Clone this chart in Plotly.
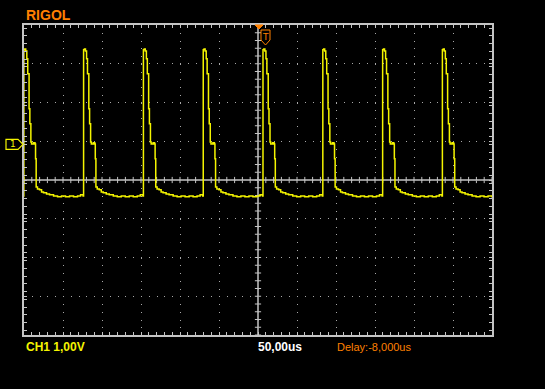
import plotly.graph_objects as go

# ---- scope settings ----
TIME_PER_DIV_US = 50.0      # 50,00us
VOLT_PER_DIV = 1.0          # CH1 1,00V
H_DIVS = 12
V_DIVS = 8
CENTER_V = -0.92            # screen centre relative to CH1 ground marker
TIME_RANGE_US = [-H_DIVS / 2 * TIME_PER_DIV_US, H_DIVS / 2 * TIME_PER_DIV_US]
VOLT_RANGE = [CENTER_V - V_DIVS / 2 * VOLT_PER_DIV, CENTER_V + V_DIVS / 2 * VOLT_PER_DIV]

# rising-edge times of each pulse on screen (us)
edge_times_us = [-300.6, -224.0, -147.3, -70.6, 6.0, 82.7, 159.4, 236.0]

# one pulse: time after its rising edge (us) and CH1 voltage (V)
pulse_t_us = [0.0, 0.4, 1.5, 2.8, 4.2, 5.4, 7.1, 8.1, 9.4, 10.3, 12.8, 14.7, 15.4,
              16.2, 17.9, 20.5, 23.1, 25.6, 29.5, 33.3, 38.5, 43.6, 48.7, 53.8,
              59.0, 64.1, 69.2, 73.1, 76.4]
pulse_v = [-1.33, 2.44, 2.46, 2.41, 2.21, 1.82, 0.92, 0.53, 0.06, 0.01, 0.04, 0.01,
           -0.37, -1.10, -1.15, -1.17, -1.23, -1.25, -1.28, -1.30, -1.33, -1.35,
           -1.33, -1.35, -1.33, -1.35, -1.33, -1.30, -1.33]

# ---- colours ----
TRACE = "#f4f400"
ORANGE = "#ff8000"
FRAME = "#c4c4c4"
GRID = "#a8a8a8"

trace_t, trace_v = [], []
for e in edge_times_us:
    for dt, v in zip(pulse_t_us, pulse_v):
        trace_t.append(e + dt)
        trace_v.append(v)

fig = go.Figure()
fig.add_trace(go.Scatter(x=trace_t, y=trace_v, mode="lines", line_shape="hv",
                         line=dict(color=TRACE, width=1.5), hoverinfo="skip",
                         showlegend=False))

W, H = 545, 389
L, R, T, B = 24, 53, 25, 54
PW, PH = W - L - R, H - T - B


def px(x):
    return (x - L) / PW


def py(y):
    return (H - B - y) / PH


shapes = []
# centre cross lines
shapes.append(dict(type="line", xref="x", yref="paper", x0=0, x1=0, y0=0, y1=1,
                   line=dict(color=FRAME, width=1.5), layer="below"))
shapes.append(dict(type="line", xref="paper", yref="y", x0=0, x1=1, y0=CENTER_V, y1=CENTER_V,
                   line=dict(color=FRAME, width=1.5), layer="below"))
# ticks on the centre cross (1/5 division)
tx_len = 0.08 * VOLT_PER_DIV
ty_len = 0.08 * TIME_PER_DIV_US
n_x = H_DIVS * 5
for i in range(n_x + 1):
    t = TIME_RANGE_US[0] + i * TIME_PER_DIV_US / 5
    shapes.append(dict(type="line", xref="x", yref="y", x0=t, x1=t,
                       y0=CENTER_V - tx_len, y1=CENTER_V + tx_len,
                       line=dict(color=FRAME, width=1), layer="below"))
n_y = V_DIVS * 5
for i in range(n_y + 1):
    v = VOLT_RANGE[0] + i * VOLT_PER_DIV / 5
    shapes.append(dict(type="line", xref="x", yref="y", x0=-ty_len, x1=ty_len, y0=v, y1=v,
                       line=dict(color=FRAME, width=1), layer="below"))

# trigger position marker (top) and trigger level "T" shield
shapes.append(dict(type="path", xref="paper", yref="paper",
                   path=f"M {px(255)},{py(25)} L {px(263)},{py(25)} L {px(259)},{py(29)} Z",
                   fillcolor=ORANGE, line=dict(color=ORANGE, width=1)))
shapes.append(dict(type="path", xref="paper", yref="paper",
                   path=(f"M {px(261)},{py(30)} L {px(270)},{py(30)} L {px(270)},{py(40)} "
                         f"L {px(265.5)},{py(45)} L {px(261)},{py(40)} Z"),
                   fillcolor="black", line=dict(color=ORANGE, width=1)))
# CH1 ground marker
gy = T + (VOLT_RANGE[1] - 0) / (VOLT_RANGE[1] - VOLT_RANGE[0]) * PH
shapes.append(dict(type="path", xref="paper", yref="paper",
                   path=(f"M {px(6)},{py(gy - 5)} L {px(18)},{py(gy - 5)} L {px(23)},{py(gy)} "
                         f"L {px(18)},{py(gy + 5)} L {px(6)},{py(gy + 5)} Z"),
                   fillcolor="black", line=dict(color=TRACE, width=1.2)))

annotations = [
    dict(text="<b>RIGOL</b>", x=px(25), y=py(15.5), xanchor="left", yanchor="middle",
         font=dict(family="Liberation Sans, Arial", size=14, color=ORANGE)),
    dict(text="T", x=px(265.5), y=py(36.5), xanchor="center", yanchor="middle",
         font=dict(family="DejaVu Sans", size=9, color=ORANGE)),
    dict(text="1", x=px(12.5), y=py(gy), xanchor="center", yanchor="middle",
         font=dict(family="DejaVu Sans", size=9, color=TRACE)),
    dict(text="<b>CH1 1,00V</b>", x=px(25), y=py(347), xanchor="left", yanchor="middle",
         font=dict(family="Liberation Sans, Arial", size=12, color=TRACE)),
    dict(text="<b>50,00us</b>", x=px(257), y=py(347), xanchor="left", yanchor="middle",
         font=dict(family="Liberation Sans, Arial", size=12, color="white")),
    dict(text="Delay:-8,000us", x=px(336), y=py(347), xanchor="left", yanchor="middle",
         font=dict(family="Liberation Sans, Arial", size=11, color=ORANGE)),
]
for a in annotations:
    a.update(xref="paper", yref="paper", showarrow=False, borderpad=0)

axis_common = dict(showline=True, mirror="allticks", linecolor=FRAME, linewidth=2,
                   ticks="inside", ticklen=3, tickcolor=FRAME, tickwidth=1,
                   showticklabels=False, zeroline=False, showgrid=True,
                   gridcolor=GRID, gridwidth=1, fixedrange=True)

fig.update_layout(
    width=W, height=H,
    margin=dict(l=L, r=R, t=T, b=B, pad=0),
    paper_bgcolor="black", plot_bgcolor="black",
    showlegend=False,
    xaxis=dict(range=TIME_RANGE_US, tick0=0, dtick=TIME_PER_DIV_US,
               griddash=f"1px,{PH / (V_DIVS * 5) - 1:.2f}px",
               minor=dict(dtick=TIME_PER_DIV_US / 5, ticks="inside", ticklen=3,
                          tickcolor=FRAME, showgrid=False),
               **axis_common),
    yaxis=dict(range=VOLT_RANGE, tick0=CENTER_V, dtick=VOLT_PER_DIV,
               griddash=f"1px,{PW / (H_DIVS * 5) - 1:.2f}px",
               minor=dict(dtick=VOLT_PER_DIV / 5, ticks="inside", ticklen=3,
                          tickcolor=FRAME, showgrid=False),
               **axis_common),
    shapes=shapes,
    annotations=annotations,
)

fig.write_html("out.html", config={"displayModeBar": False},
               post_script="document.body.style.margin='0';document.body.style.background='black';")
